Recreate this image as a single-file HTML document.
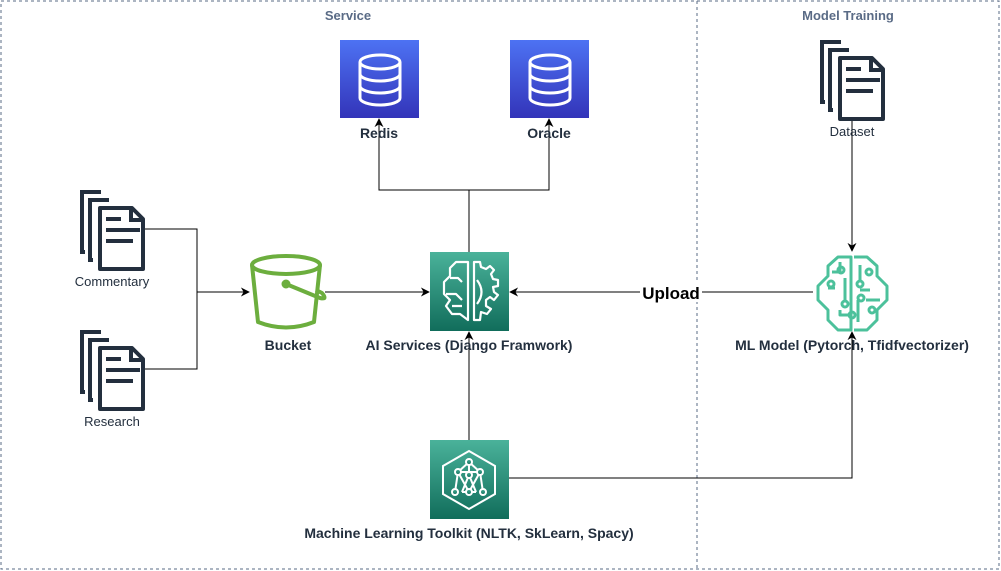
<!DOCTYPE html>
<html><head><meta charset="utf-8"><style>
html,body{margin:0;padding:0;background:#fff;}
svg{display:block;font-family:"Liberation Sans",Arial,sans-serif;}
</style></head><body>
<svg width="1001" height="571" viewBox="0 0 1001 571" xmlns="http://www.w3.org/2000/svg">
<defs>
<linearGradient id="gb" x1="0" y1="0" x2="0" y2="1"><stop offset="0" stop-color="#4d72f3"/><stop offset="1" stop-color="#3334b9"/></linearGradient>
<linearGradient id="gg" x1="0" y1="0" x2="0" y2="1"><stop offset="0" stop-color="#4ab29a"/><stop offset="1" stop-color="#116d5b"/></linearGradient>
<marker id="ar" viewBox="0 0 10 10" refX="9" refY="5" markerWidth="9" markerHeight="9" orient="auto" markerUnits="userSpaceOnUse"><path d="M0,0 L10,5 L0,10 L3,5 z" fill="#000"/></marker>
<g id="doc" fill="none" stroke="#232f3e" stroke-width="4">
<path d="M21,2 H2 V62 H5"/>
<path d="M29,10 H10 V70 H13"/>
<path d="M20,18 H52 L63,29 V79 H20 Z" stroke-linejoin="round"/>
<path d="M51,18 V30 H63"/>
<path d="M26,29 H41 M26,40 H60 M26,51 H53"/>
</g>
<g id="db" fill="none" stroke="#fff" stroke-width="3">
<ellipse cx="40" cy="22" rx="20" ry="7"/>
<path d="M20,22 V58 M60,22 V58 M20,34 A20,7 0 0 0 60,34 M20,46 A20,7 0 0 0 60,46 M20,58 A20,7 0 0 0 60,58"/>
</g>
</defs>
<rect x="1" y="1" width="998" height="568" fill="none" stroke="#5a6b86" stroke-dasharray="3,3"/>
<line x1="697" y1="1" x2="697" y2="569" stroke="#5a6b86" stroke-dasharray="3,3"/>
<text x="348" y="20" font-size="13" font-weight="bold" fill="#5a6b86" text-anchor="middle">Service</text>
<text x="848" y="20" font-size="13" font-weight="bold" fill="#5a6b86" text-anchor="middle">Model Training</text>

<g fill="none" stroke="#000" stroke-width="1">
<path d="M145,229 H197 V369 H145"/>
<path d="M197,292 H249" marker-end="url(#ar)"/>
<path d="M325,292 H429" marker-end="url(#ar)"/>
<path d="M469,252 V190 H379 V119" marker-end="url(#ar)"/>
<path d="M469,190 H549 V119" marker-end="url(#ar)"/>
<path d="M813,292 H510" marker-end="url(#ar)"/>
<path d="M852,118 V251" marker-end="url(#ar)"/>
<path d="M469,440 V332" marker-end="url(#ar)"/>
<path d="M509,478 H852 V332" marker-end="url(#ar)"/>
</g>
<rect x="640" y="283" width="62" height="19" fill="#fff"/>
<text x="671" y="299" font-size="17" font-weight="bold" fill="#000" text-anchor="middle">Upload</text>

<rect x="340" y="40" width="79" height="78" fill="url(#gb)"/>
<use href="#db" x="340" y="40"/>
<rect x="510" y="40" width="79" height="78" fill="url(#gb)"/>
<use href="#db" x="510" y="40"/>
<text x="379" y="138" font-size="14" font-weight="bold" fill="#232f3e" text-anchor="middle">Redis</text>
<text x="549" y="138" font-size="14" font-weight="bold" fill="#232f3e" text-anchor="middle">Oracle</text>

<use href="#doc" x="80" y="190"/>
<text x="112" y="286" font-size="13" fill="#232f3e" text-anchor="middle">Commentary</text>
<use href="#doc" x="80" y="330"/>
<text x="112" y="426" font-size="13" fill="#232f3e" text-anchor="middle">Research</text>
<use href="#doc" x="820" y="40"/>
<text x="852" y="136" font-size="13" fill="#232f3e" text-anchor="middle">Dataset</text>

<g fill="none" stroke="#6cae3e" stroke-width="4" stroke-linejoin="round">
<ellipse cx="286" cy="265" rx="34" ry="9"/>
<path d="M252,265 L258,322 Q286,333 314,322 L320,265"/>
<path d="M286,284 L320,298 Q328,300 322,293 L316,290"/>
<circle cx="286" cy="284" r="2.5" fill="#6cae3e"/>
</g>
<text x="288" y="350" font-size="14" font-weight="bold" fill="#232f3e" text-anchor="middle">Bucket</text>

<rect x="430" y="252" width="79" height="79" fill="url(#gg)"/>
<g fill="none" stroke="#fff" stroke-width="2.2" stroke-linejoin="round">
<path d="M468,262 H456 L450,268 V276 L444,282 V294 L450,300 L446,306 L452,314 H460 L468,320 Z"/>
<path d="M450,278 H458 L462,282 M446,294 H456 L462,300 M452,306 H462"/>
<path d="M474,262 H480 L481,267 L486,269 L490,266 L494,270 L491,274 L493,279 L498,280 V286 L493,287 L494,292 L498,295 L494,300 L490,297 L486,300 V306 L491,309 L487,314 L481,312 L480,320 H474 Z"/>
<path d="M477,280 Q486,292 477,304"/>
</g>
<text x="469" y="350" font-size="14" font-weight="bold" fill="#232f3e" text-anchor="middle">AI Services (Django Framwork)</text>

<g fill="none" stroke="#4cc19b" stroke-width="3" stroke-linejoin="round">
<path d="M851,257 L838,257 L828,266 L828,276 L818,286 L818,300 L828,310 L828,320 L838,330 L851,330 Z"/>
<path d="M854,257 L867,257 L877,266 L877,276 L887,286 L887,300 L877,310 L877,320 L867,330 L854,330"/>
<path d="M832,272 H840 V262 M828,288 H835 M845,278 V300 M840,310 V315 H848 M860,265 V280 M860,290 H870 M866,300 H880 M858,300 V322"/>
<circle cx="841" cy="270" r="3"/><circle cx="831" cy="284" r="3"/><circle cx="845" cy="304" r="3"/>
<circle cx="852" cy="315" r="3"/><circle cx="869" cy="272" r="3"/><circle cx="860" cy="284" r="3"/>
<circle cx="861" cy="298" r="3"/><circle cx="872" cy="310" r="3"/>
</g>
<text x="852" y="350" font-size="14" font-weight="bold" fill="#232f3e" text-anchor="middle">ML Model (Pytorch, Tfidfvectorizer)</text>

<rect x="430" y="440" width="79" height="79" fill="url(#gg)"/>
<g fill="none" stroke="#fff" stroke-width="2">
<path d="M469,451 L495,466 V494 L469,509 L443,494 V466 Z"/>
<path d="M469,462 L458,472 L455,492 M469,462 L480,472 L483,492 M458,472 H480 M469,462 V475 M469,475 L462,492 M469,475 L476,492 M458,472 L469,492 L480,472 M462,492 H476"/>
<circle cx="469" cy="462" r="3" fill="url(#gg)"/><circle cx="458" cy="472" r="3" fill="url(#gg)"/><circle cx="480" cy="472" r="3" fill="url(#gg)"/>
<circle cx="469" cy="475" r="3" fill="url(#gg)"/><circle cx="455" cy="492" r="3" fill="url(#gg)"/><circle cx="483" cy="492" r="3" fill="url(#gg)"/>
<circle cx="469" cy="492" r="3" fill="url(#gg)"/>
</g>
<text x="469" y="538" font-size="14" font-weight="bold" fill="#232f3e" text-anchor="middle">Machine Learning Toolkit (NLTK, SkLearn, Spacy)</text>
</svg>
</body></html>
